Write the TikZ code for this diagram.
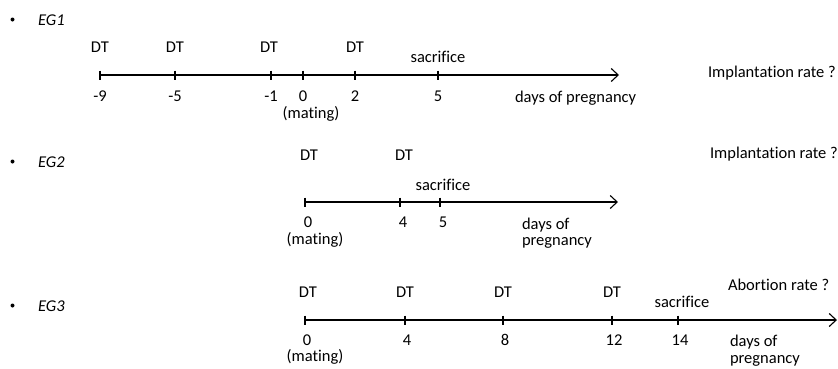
\documentclass[tikz,border=0pt]{standalone}
\usepackage{fontspec}
\setmainfont[Ligatures={NoCommon}]{Carlito}
\usetikzlibrary{arrows.meta}
\begin{document}
\begin{tikzpicture}[x=1pt,y=-1pt,
  every node/.style={inner sep=0pt,outer sep=0pt,font=\fontsize{16.5}{17}\selectfont},
  lbl/.style={anchor=base},
  lbll/.style={anchor=base west},
  axis/.style={line width=1.1pt,-{Straight Barb[length=7pt,width=13pt,line width=1.1pt]}},
  tick/.style={line width=1.1pt},
  bul/.style={circle,fill=black,minimum size=4pt}]
\useasboundingbox (0,0) rectangle (838,368);

% ---------- EG1 ----------
\node[bul] (b1) at (12.5,19.5) {};
\node[lbll] (eg1) at (38,25) {\itshape EG1};
\coordinate (s1) at (100,75);
\coordinate (e1) at (619,75);
\draw[axis] (s1) -- (e1);
\foreach \x/\n in {100/-9,175/-5,271/-1,303/0,355/2,438/5}{
  \draw[tick] (\x,70.5) -- (\x,79.5);
  \node[lbl] at (\x,101) {\n};
}
\foreach \x in {100,175,269,355}{\node[lbl] at (\x,52) {DT};}
\node[lbl] (sac1) at (438,62) {sacrifice};
\node[lbl] (mat1) at (311,118) {(mating)};
\node[lbll] (days1) at (515,102) {days of pregnancy};
\node[lbll] (q1) at (708,77) {Implantation rate ?};

% ---------- EG2 ----------
\node[bul] (b2) at (12.5,161.5) {};
\node[lbll] (eg2) at (38,167) {\itshape EG2};
\coordinate (s2) at (305,202);
\coordinate (e2) at (618,202);
\draw[axis] (s2) -- (e2);
\foreach \x/\n in {305/0,400/4,440/5}{
  \draw[tick] (\x,197.5) -- (\x,206.5);
  \node[lbl] at (\x+3,227) {\n};
}
\node[lbl] at (309,160) {DT};
\node[lbl] at (404,160) {DT};
\node[lbl] (sac2) at (443,190) {sacrifice};
\node[lbl] (mat2) at (315,244) {(mating)};
\node[lbll] (days2a) at (522,229) {days of};
\node[lbll] (days2b) at (522,245) {pregnancy};
\node[lbll] (q2) at (710,158) {Implantation rate ?};

% ---------- EG3 ----------
\node[bul] (b3) at (12.5,305.5) {};
\node[lbll] (eg3) at (38,311) {\itshape EG3};
\coordinate (s3) at (305,320);
\coordinate (e3) at (837,320);
\draw[axis] (s3) -- (e3);
\foreach \x/\n in {305/0,405/4,503/8,612/12,678/14}{
  \draw[tick] (\x,315.5) -- (\x,324.5);
  \node[lbl] at (\x+2,345) {\n};
}
\foreach \x in {308,405,503,612}{\node[lbl] at (\x,297) {DT};}
\node[lbl] (sac3) at (682,307) {sacrifice};
\node[lbll] (q3) at (728,290) {Abortion rate ?};
\node[lbl] (mat3) at (315,361) {(mating)};
\node[lbll] (days3a) at (730,346) {days of};
\node[lbll] (days3b) at (730,363) {pregnancy};
\end{tikzpicture}
\end{document}
